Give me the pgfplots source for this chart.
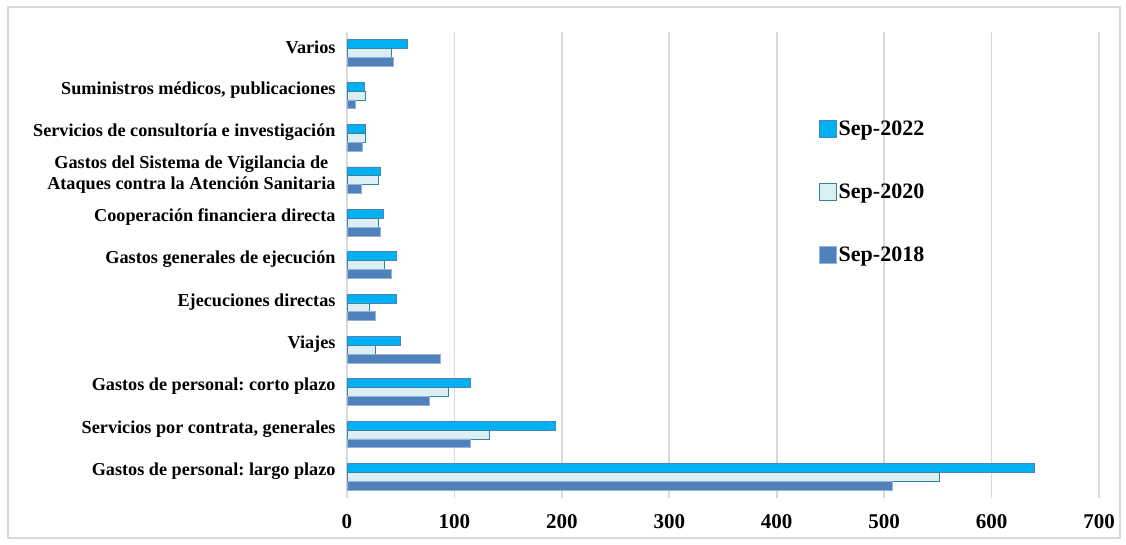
\documentclass[border=0pt]{standalone}
\usepackage{pgfplots}
\pgfplotsset{compat=1.18}
\usepackage{fontspec}
\setmainfont{Liberation Serif}
\frenchspacing
\definecolor{c22}{RGB}{0,176,240}
\definecolor{c22e}{RGB}{79,129,189}
\definecolor{c20}{RGB}{218,238,243}
\definecolor{c20e}{RGB}{49,133,156}
\definecolor{c18}{RGB}{79,129,189}
\definecolor{c18e}{RGB}{149,179,215}
\definecolor{gridc}{RGB}{217,217,217}
\begin{document}
\begin{tikzpicture}[x=1pt,y=1pt]
\path[use as bounding box] (-347,-46) rectangle (779,498);
\draw[gridc, line width=1.2pt] (-339,491) rectangle (773,-40);
\begin{axis}[
  at={(0,0)}, anchor=south west,
  scale only axis, width=752pt, height=466pt,
  xbar, bar width=8.9pt,
  xmin=0, xmax=700, ymin=-0.5, ymax=10.5,
  xtick={0,100,...,700},
  ytick={0,...,10},
  yticklabels={Gastos de personal: largo plazo,
    {Servicios por contrata, generales},
    Gastos de personal: corto plazo,
    Viajes,
    Ejecuciones directas,
    Gastos generales de ejecución,
    Cooperación financiera directa,
    {Gastos del Sistema de Vigilancia de\\Ataques contra la Atención Sanitaria},
    Servicios de consultoría e investigación,
    {Suministros médicos, publicaciones},
    Varios},
  yticklabel style={align=center, font=\fontsize{18.2}{21.5}\selectfont\bfseries\frenchspacing, xshift=-8pt, yshift=5.5pt},
  xticklabel style={font=\fontsize{21}{24}\selectfont\bfseries, yshift=-13pt},
  /pgf/number format/assume math mode=true,
  major tick length=0pt,
  xmajorgrids, grid style={gridc, line width=1.6pt},
  axis x line=none, axis y line*=left,
  hide x axis=false,
  x axis line style={draw=none},
  y axis line style={gridc, line width=1.6pt},
  axis line style={gridc, line width=1.6pt},
  legend style={draw=none, fill=none, at={(0.623,0.818)}, anchor=north west,
    font=\fontsize{22}{24}\selectfont\bfseries, row sep=43pt,
    /tikz/every even column/.append style={column sep=0pt}},
  legend cell align=left,
  legend image code/.code={\draw[#1, line width=1pt] (0pt,-8.5pt) rectangle (17pt,8.5pt);},
  clip=false,
]
\addplot[fill=c22, draw=c22e, line width=0.8pt, bar shift=8.9pt] coordinates {
(640,0) (194,1) (114.5,2) (49.6,3) (46,4) (45.6,5) (34,6) (31,7) (17.4,8) (16,9) (56.5,10)};
\addplot[fill=c20, draw=c20e, line width=0.8pt, bar shift=0pt] coordinates {
(551,0) (133,1) (94,2) (26.7,3) (20.5,4) (35,5) (29,6) (29,7) (17,8) (17.4,9) (41.6,10)};
\addplot[fill=c18, draw=c18e, line width=0.8pt, bar shift=-8.9pt] coordinates {
(508,0) (115,1) (77,2) (87,3) (26,4) (41,5) (31,6) (13,7) (14.6,8) (7.5,9) (43,10)};
\legend{Sep-2022,Sep-2020,Sep-2018}
\end{axis}
\end{tikzpicture}
\end{document}
